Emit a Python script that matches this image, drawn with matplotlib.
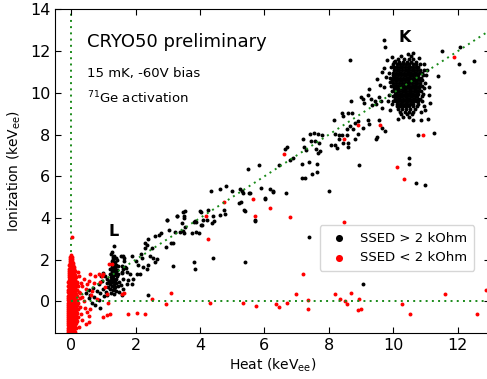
import numpy as np
import matplotlib
matplotlib.use('Agg')
import matplotlib.pyplot as plt

# K-line cluster of the SSED > 2 kOhm events, rows of (ionization, [heat values])
k_rows = [
    (11.85, [10.45]),
    (11.75, [10.25, 10.55]),
    (11.62, [10.15, 10.32, 10.48, 10.62]),
    (11.5, [10.02, 10.18, 10.3, 10.42, 10.55, 10.7]),
    (11.37, [9.98, 10.1, 10.2, 10.3, 10.4, 10.5, 10.6, 10.72, 10.82]),
    (11.22, [9.92, 10.02, 10.1, 10.2, 10.28, 10.37, 10.45, 10.53, 10.6, 10.7, 10.78]),
    (11.1, [10.02, 10.1, 10.18, 10.28, 10.36, 10.44, 10.5, 10.58, 10.65, 10.74, 10.82, 10.95]),
    (10.97, [9.88, 10.0, 10.08, 10.17, 10.25, 10.34, 10.42, 10.49, 10.56, 10.64, 10.72, 10.8, 10.88]),
    (10.85, [9.98, 10.06, 10.14, 10.23, 10.32, 10.4, 10.48, 10.55, 10.62, 10.7, 10.78, 10.92, 11.02]),
    (10.72, [9.9, 10.0, 10.05, 10.12, 10.2, 10.3, 10.38, 10.46, 10.53, 10.6, 10.68, 10.77, 10.85]),
    (10.6, [9.95, 10.04, 10.12, 10.2, 10.28, 10.37, 10.45, 10.52, 10.6, 10.67, 10.75, 10.84, 10.9]),
    (10.47, [10.0, 10.09, 10.18, 10.26, 10.35, 10.43, 10.5, 10.58, 10.66, 10.74, 10.82, 10.97]),
    (10.35, [9.93, 10.02, 10.08, 10.16, 10.25, 10.33, 10.42, 10.5, 10.57, 10.65, 10.72, 10.8, 10.88]),
    (10.22, [10.02, 10.1, 10.16, 10.24, 10.32, 10.4, 10.48, 10.56, 10.64, 10.72, 10.8, 10.95]),
    (10.1, [9.96, 10.04, 10.1, 10.18, 10.26, 10.33, 10.4, 10.48, 10.55, 10.63, 10.7, 10.78, 10.86]),
    (9.97, [10.05, 10.12, 10.2, 10.28, 10.35, 10.42, 10.5, 10.56, 10.62, 10.7, 10.78, 10.93]),
    (9.85, [9.98, 10.06, 10.12, 10.2, 10.28, 10.36, 10.44, 10.51, 10.58, 10.66, 10.74, 10.88]),
    (9.72, [10.06, 10.14, 10.22, 10.3, 10.38, 10.45, 10.52, 10.6, 10.68, 10.76, 10.84]),
    (9.6, [10.0, 10.08, 10.15, 10.23, 10.3, 10.38, 10.46, 10.54, 10.62, 10.7, 10.78]),
    (9.47, [10.12, 10.2, 10.28, 10.36, 10.44, 10.52, 10.62, 10.78]),
    (9.35, [10.1, 10.2, 10.3, 10.4, 10.5, 10.6, 10.75]),
    (9.22, [10.15, 10.28, 10.4, 10.52, 10.68]),
    (9.1, [10.2, 10.35, 10.5, 10.62]),
    (8.97, [10.25, 10.42, 10.58]),
    (8.85, [10.3, 10.5]),
]

# L-line cluster and the band of SSED > 2 kOhm events along the diagonal
l_pts = [
    (1.25, 2.3), (1.33, 2.2), (1.3, 2.05), (1.38, 2.1), (1.27, 1.95), (1.35, 1.9), (1.42, 1.98),
    (1.24, 1.8), (1.31, 1.78), (1.39, 1.75), (1.28, 1.65), (1.36, 1.6), (1.22, 1.55), (1.33, 1.5),
    (1.41, 1.52), (1.26, 1.42), (1.3, 1.35), (1.38, 1.38), (1.2, 1.3), (1.34, 1.25), (1.42, 1.2),
    (1.25, 1.15), (1.31, 1.08), (1.37, 1.05), (1.18, 1.0), (1.28, 0.95), (1.4, 0.9), (1.22, 0.85),
    (1.33, 0.8), (1.26, 0.72), (1.36, 0.68), (1.2, 0.6), (1.3, 0.55), (1.4, 0.5), (1.25, 0.42),
    (1.34, 0.35), (1.15, 0.7), (1.12, 0.9), (1.1, 1.1), (1.45, 1.7), (1.45, 1.3), (1.46, 0.75),
    (1.33, 2.64), (1.28, 2.35), (1.3, 1.85), (1.35, 1.4), (1.29, 1.2), (1.23, 1.05), (1.36, 0.95),
    (1.32, 0.62), (1.3, 2.15), (1.36, 1.7), (1.28, 1.5), (1.4, 1.1), (1.24, 0.95), (1.3, 0.75),
    (0.46, 0.4), (0.55, 0.55), (0.6, 0.3), (0.68, 0.65), (0.72, 0.2), (0.8, 0.5), (0.85, 0.85),
    (0.9, 0.4), (0.95, 1.0), (1.0, 0.6), (1.05, 1.2), (1.02, 0.25), (0.88, 0.05), (0.75, -0.15),
    (0.65, -0.05), (0.98, 1.35), (1.08, 0.45), (1.12, 0.3), (0.55, 0.15), (0.92, 1.2), (0.9, -0.3),
    (1.54, 2.2), (1.6, 2.2), (1.65, 1.95), (1.57, 1.7), (1.62, 1.55), (1.7, 1.6), (1.57, 1.35),
    (1.75, 1.05), (1.5, 0.95), (1.55, 0.8), (1.6, 0.6), (1.5, 0.45), (1.58, 0.3),
]

band_pts = [
    (1.64, 2.1), (1.9, 2.2), (2.0, 1.96), (2.16, 2.3), (2.3, 2.78), (2.4, 3.0), (2.6, 3.16),
    (2.78, 3.26), (2.99, 3.9), (3.09, 2.8), (2.93, 2.6), (3.3, 4.1), (3.5, 4.0), (3.55, 4.36),
    (3.46, 3.4), (3.5, 3.3), (4.0, 4.36), (3.8, 1.87), (3.86, 1.58), (4.4, 2.1), (5.4, 1.87),
    (2.4, 0.3), (3.15, 1.72),
    (2.29, 2.54), (2.35, 2.69), (2.44, 2.2), (2.53, 2.1), (2.66, 2.06), (2.6, 1.87), (2.38, 1.73),
    (2.35, 1.58), (2.23, 1.63), (2.13, 1.34), (2.04, 1.34), (1.92, 1.1), (1.88, 0.86), (1.73, 1.39),
    (1.67, 1.63), (1.58, 1.39), (1.6, 1.1), (1.73, 0.86), (1.82, 1.34), (2.07, 1.73), (2.19, 2.1),
    (4.04, 4.3), (4.25, 4.4), (4.4, 4.12), (4.63, 4.17), (4.75, 4.4), (4.78, 4.2), (4.1, 3.9),
    (4.22, 3.93), (4.37, 3.74), (4.43, 3.84), (4.02, 3.68), (4.05, 3.65), (3.83, 3.84), (3.89, 3.79),
    (3.8, 3.79), (3.74, 3.26), (3.89, 3.31), (3.96, 3.26),
    (3.46, 4.3), (3.49, 4.08), (3.3, 4.12), (3.43, 3.74), (3.55, 3.55), (3.21, 3.31), (3.37, 3.31),
    (2.97, 3.93), (3.03, 3.45), (3.15, 2.78), (2.72, 3.21), (2.5, 2.54),
    (5.83, 6.52), (5.5, 6.33), (6.45, 6.52), (5.25, 5.4), (5.3, 5.3), (5.35, 5.2), (5.52, 5.2),
    (4.8, 5.56), (4.63, 5.37), (4.35, 5.32), (5.0, 5.32), (5.2, 4.7), (5.28, 4.75), (5.4, 4.36),
    (5.7, 3.88), (5.9, 5.46), (6.17, 5.37), (6.27, 5.27), (6.02, 4.9),
    (5.37, 4.4), (5.7, 3.93), (7.38, 3.07), (9.07, 0.86), (5.55, 5.2), (6.02, 4.95), (6.27, 5.3),
    (6.67, 5.2), (8.0, 5.3),
    (6.64, 7.33), (6.7, 7.4), (6.79, 6.8), (6.9, 6.9), (7.16, 6.6), (7.37, 6.7), (7.62, 6.6),
    (7.62, 6.23), (7.47, 6.1), (7.16, 5.94), (7.25, 5.9), (7.19, 7.8), (7.22, 7.4), (7.3, 7.24),
    (7.41, 8.05), (7.53, 8.1), (7.65, 8.05), (7.78, 8.0), (7.45, 7.7), (7.57, 7.7), (7.7, 7.6),
    (7.6, 7.3), (7.65, 7.1), (7.72, 7.2), (8.06, 7.5), (8.3, 8.0), (8.4, 8.0), (8.15, 8.72),
    (8.4, 9.06), (8.58, 9.06), (8.43, 8.87), (8.55, 8.25), (8.55, 8.0), (8.58, 7.62), (8.58, 7.43),
    (8.8, 7.8), (8.73, 9.06), (8.7, 9.6), (8.9, 8.67), (8.8, 8.55), (8.65, 8.4), (8.75, 8.25),
    (8.9, 8.05), (9.05, 8.3), (8.2, 8.05), (8.3, 7.8), (8.2, 7.5), (8.25, 7.35), (8.45, 7.6),
    (9.0, 9.8), (9.06, 9.7), (9.1, 9.5), (9.2, 9.9), (9.26, 10.2), (9.3, 9.7), (9.43, 9.6),
    (9.33, 9.4), (9.47, 9.45), (9.23, 8.7), (9.26, 8.5), (9.5, 7.9), (9.47, 7.8), (9.66, 8.3),
    (9.75, 8.15), (9.57, 8.72), (9.66, 9.3), (9.63, 9.6), (9.57, 9.8),
    (9.5, 10.65), (9.6, 10.4), (9.66, 11.0), (9.7, 11.2), (9.78, 10.75), (9.72, 10.27), (9.8, 11.57),
    (8.67, 11.6), (9.72, 12.56), (9.75, 12.2), (11.5, 12.0), (12.07, 12.2), (12.04, 11.4),
    (12.5, 11.55), (12.2, 10.98), (11.4, 10.8), (11.08, 8.77), (10.86, 8.72), (11.27, 8.1),
    (10.77, 7.96), (10.5, 6.9), (10.5, 6.57), (10.7, 5.66), (10.99, 5.6), (8.95, 6.52),
    (10.95, 11.4), (11.1, 10.3), (11.12, 9.9), (11.15, 9.5), (9.85, 9.6), (9.9, 9.2), (9.95, 11.7),
    (10.6, 11.9), (10.8, 11.65), (11.05, 11.1), (10.15, 8.75), (10.62, 8.7), (11.0, 9.2),
    (9.88, 9.9), (9.9, 10.5), (10.9, 9.6), (10.95, 9.35), (10.85, 9.1), (9.95, 9.45), (10.05, 11.55),
]

# SSED < 2 kOhm events: dense column at zero heat, rows of (ionization, [heat values])
zero_rows = [
    (2.25, [0.0]),
    (2.15, [-0.03, 0.02]),
    (2.05, [-0.04, 0.0, 0.04]),
    (1.95, [-0.05, -0.01, 0.03]),
    (1.85, [-0.04, 0.0, 0.05]),
    (1.75, [-0.06, -0.02, 0.02, 0.06]),
    (1.65, [-0.05, 0.0, 0.04, 0.08]),
    (1.55, [-0.07, -0.03, 0.01, 0.05, 0.1]),
    (1.45, [-0.06, -0.02, 0.03, 0.07, 0.12]),
    (1.35, [-0.08, -0.03, 0.01, 0.05, 0.1]),
    (1.25, [-0.07, -0.02, 0.02, 0.06, 0.12]),
    (1.15, [-0.08, -0.04, 0.0, 0.04, 0.09, 0.15]),
    (1.05, [-0.07, -0.03, 0.02, 0.06, 0.11]),
    (0.95, [-0.09, -0.04, 0.0, 0.05, 0.1, 0.17]),
    (0.85, [-0.08, -0.03, 0.01, 0.06, 0.12]),
    (0.75, [-0.09, -0.05, 0.0, 0.04, 0.09, 0.15, 0.22]),
    (0.65, [-0.08, -0.03, 0.02, 0.07, 0.13]),
    (0.55, [-0.09, -0.04, 0.0, 0.05, 0.1, 0.18]),
    (0.45, [-0.1, -0.05, 0.01, 0.06, 0.12, 0.24]),
    (0.35, [-0.08, -0.03, 0.02, 0.08, 0.15]),
    (0.25, [-0.1, -0.05, 0.0, 0.05, 0.1, 0.19]),
    (0.15, [-0.09, -0.04, 0.01, 0.06, 0.12, 0.27]),
    (0.05, [-0.1, -0.05, 0.0, 0.05, 0.1, 0.17]),
    (-0.05, [-0.09, -0.04, 0.02, 0.07, 0.13, 0.21]),
    (-0.15, [-0.1, -0.05, 0.0, 0.05, 0.11, 0.18]),
    (-0.25, [-0.11, -0.06, -0.01, 0.04, 0.09, 0.15, 0.26]),
    (-0.35, [-0.1, -0.05, 0.01, 0.06, 0.12, 0.2]),
    (-0.45, [-0.11, -0.06, -0.01, 0.04, 0.09, 0.16]),
    (-0.55, [-0.1, -0.05, 0.0, 0.05, 0.11, 0.19]),
    (-0.65, [-0.11, -0.06, -0.01, 0.04, 0.1, 0.16]),
    (-0.75, [-0.1, -0.05, 0.01, 0.06, 0.12, 0.22]),
    (-0.85, [-0.11, -0.06, -0.01, 0.04, 0.09, 0.15]),
    (-0.95, [-0.1, -0.05, 0.0, 0.05, 0.11, 0.18]),
    (-1.05, [-0.11, -0.06, -0.01, 0.04, 0.1, 0.15]),
    (-1.15, [-0.1, -0.05, 0.01, 0.06, 0.12]),
    (-1.25, [-0.11, -0.06, -0.01, 0.04, 0.09, 0.14]),
    (-1.35, [-0.1, -0.05, 0.0, 0.05, 0.1]),
    (-1.45, [-0.11, -0.06, -0.01, 0.04, 0.09, 0.13]),
]

red_pts = [
    (0.3, 0.9), (0.35, 0.75), (0.4, 1.1), (0.45, 0.6), (0.5, 0.85), (0.55, 1.0), (0.6, 1.3),
    (0.65, 0.5), (0.7, 0.9), (0.75, 1.2), (0.28, 0.4), (0.33, 0.2), (0.4, 0.0), (0.42, -0.3),
    (0.5, -0.5), (0.55, -0.7), (0.3, -0.6), (0.35, -0.9), (0.45, -1.1), (0.25, -1.2), (0.6, -0.35),
    (0.62, 0.3), (0.8, 0.1), (0.85, 1.3), (0.9, 0.95), (0.95, 1.2), (1.0, 1.3), (1.05, 0.7),
    (1.1, 0.35), (1.15, -0.05), (0.56, -1.0), (1.2, -0.6), (1.1, -0.65), (1.0, -0.75), (1.27, 1.8),
    (1.17, 1.8), (1.75, -0.62), (2.03, -0.53), (2.3, -0.62), (1.64, 0.4), (1.58, 0.38), (2.5, 0.1),
    (2.95, -0.1), (3.1, 0.4), (0.03, 3.1), (0.2, 1.4), (0.25, 1.2), (0.18, 0.9),
    (4.26, 3.0), (4.2, 4.1), (4.76, 4.75), (4.3, -0.05), (5.35, -0.05), (5.65, 4.9), (6.17, 4.5),
    (5.7, 4.08), (6.8, 4.03), (8.46, 3.83), (7.19, 1.34), (6.98, 0.34), (5.74, -0.2), (6.36, -0.1),
    (6.45, -0.25), (6.7, -0.05), (7.35, 0.05), (7.35, -0.38), (8.2, 0.34), (8.36, 0.1), (8.5, 0.0),
    (8.55, -0.1), (8.7, 0.43), (8.95, 0.14), (8.92, -0.43), (9.0, -0.38), (10.28, -0.1),
    (10.52, -0.62), (11.6, 0.38), (12.6, -0.62), (12.87, 0.57), (6.6, 7.05), (8.46, 7.8),
    (8.92, 8.48), (9.6, 8.44), (10.93, 8.0), (10.12, 6.47), (10.34, 5.85), (11.9, 11.7),
]


def expand(rows):
    xs, ys = [], []
    for y, row in rows:
        xs += row
        ys += [y] * len(row)
    return np.array(xs), np.array(ys)


kx, ky = expand(k_rows)
lx, ly = np.array(l_pts).T
bx, by = np.array(band_pts).T
black_x = np.concatenate([kx, lx, bx])
black_y = np.concatenate([ky, ly, by])

zx, zy = expand(zero_rows)
rx, ry = np.array(red_pts).T
red_x = np.concatenate([zx, rx])
red_y = np.concatenate([zy, ry])

fig = plt.figure(figsize=(4.87, 3.79), dpi=100)
ax = fig.add_axes([0.113, 0.122, 0.893, 0.853])

green = '#1a8a1a'
ax.axvline(0, color=green, ls=(0, (1, 2.2)), lw=1.4, zorder=1)
ax.scatter(black_x, black_y, s=8, c='black', lw=0, zorder=2, label='SSED > 2 kOhm')
ax.scatter(red_x, red_y, s=8, c='red', lw=0, zorder=2, label='SSED < 2 kOhm')
ax.plot([0, 14], [0, 14], color=green, ls=(0, (1, 2.2)), lw=1.4, zorder=3)
ax.plot([0, 14], [0, 0], color=green, ls=(0, (1, 2.2)), lw=1.4, zorder=3)

ax.set_xlim(-0.5, 13)
ax.set_ylim(-1.5, 14)
ax.set_xticks([0, 2, 4, 6, 8, 10, 12])
ax.set_yticks([0, 2, 4, 6, 8, 10, 12, 14])
ax.tick_params(direction='in', top=True, right=True, labelsize=11.5, length=4)
ax.set_xlabel('Heat (keV$_{\\mathrm{ee}}$)', fontsize=10, labelpad=3)
ax.set_ylabel('Ionization (keV$_{\\mathrm{ee}}$)', fontsize=10, labelpad=5)

ax.text(0.49, 12.2, 'CRYO50 preliminary', fontsize=13)
ax.text(0.49, 10.75, '15 mK, -60V bias', fontsize=9.5)
ax.text(0.49, 9.5, '$^{71}$Ge activation', fontsize=9.5)
ax.text(10.34, 12.43, 'K', fontsize=11.5, fontweight='bold', ha='center')
ax.text(1.31, 3.13, 'L', fontsize=11.5, fontweight='bold', ha='center')

ax.legend(loc='lower right', bbox_to_anchor=(0.979, 0.171), fontsize=9.5, markerscale=1.8,
          handletextpad=0.6, borderpad=0.5, scatterpoints=1)

fig.savefig('out.png', dpi=100)
